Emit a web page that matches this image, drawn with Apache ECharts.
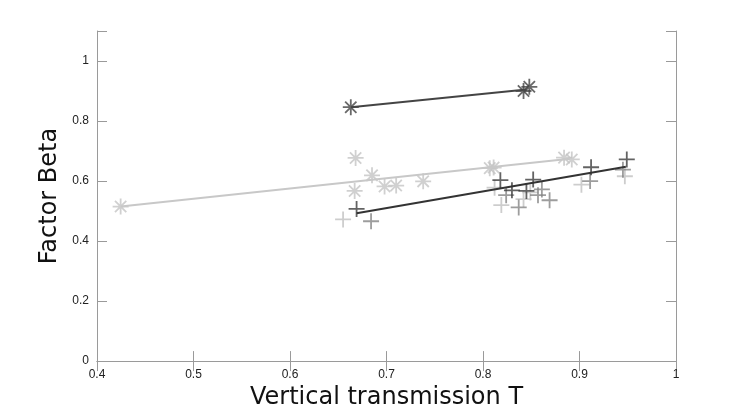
<!DOCTYPE html>
<html>
<head>
<meta charset="utf-8">
<script src="https://cdn.jsdelivr.net/npm/echarts@6/dist/echarts.min.js"></script>
<style>
html, body { margin: 0; padding: 0; background: #fff; }
#chart { width: 747px; height: 415px; }
</style>
</head>
<body>
<div id="chart"></div>
<script>
// axis ticks
var xTicks = [0.4, 0.5, 0.6, 0.7, 0.8, 0.9, 1];
var yTicks = [0, 0.2, 0.4, 0.6, 0.8, 1];

// dark asterisks + their line
var darkStar = [[0.663, 0.846], [0.842, 0.900], [0.848, 0.914]];
var darkStarLine = [[0.663, 0.846], [0.845, 0.905]];

// light asterisks + their line
var lightStar = [
	[0.4245, 0.515], [0.668, 0.677], [0.685, 0.619], [0.667, 0.567],
	[0.698, 0.582], [0.710, 0.585], [0.738, 0.599], [0.807, 0.643],
	[0.811, 0.645], [0.884, 0.678], [0.892, 0.672]
];
var lightStarLine = [[0.4245, 0.515], [0.89, 0.674]];

// plus markers, three shades
var darkPlus = [
	[0.669, 0.507], [0.818, 0.603], [0.852, 0.605], [0.830, 0.569],
	[0.845, 0.567], [0.912, 0.646], [0.949, 0.672]
];
var midPlus = [
	[0.684, 0.466], [0.824, 0.553], [0.837, 0.512], [0.857, 0.553],
	[0.861, 0.572], [0.869, 0.536], [0.911, 0.600], [0.945, 0.638]
];
var lightPlus = [
	[0.655, 0.472], [0.812, 0.578], [0.819, 0.520], [0.842, 0.540],
	[0.849, 0.562], [0.902, 0.588], [0.947, 0.616]
];
var darkPlusLine = [[0.669, 0.493], [0.948, 0.648]];

var STAR = 'path://M0,-8L0,8M-8,0L8,0M-5.66,-5.66L5.66,5.66M-5.66,5.66L5.66,-5.66';
var PLUS = 'path://M0,-8L0,8M-8,0L8,0';

var chart = echarts.init(document.getElementById('chart'));

function marks(data, shape, color, size) {
	return {
		type: 'scatter',
		data: data,
		symbol: shape,
		symbolSize: size,
		itemStyle: { color: 'transparent', borderColor: color, borderWidth: 1.8 },
		emphasis: { disabled: true }
	};
}
function fitLine(data, color) {
	return {
		type: 'line',
		data: data,
		symbol: 'none',
		lineStyle: { color: color, width: 2 },
		emphasis: { disabled: true }
	};
}

var axisGray = '#9a9a9a';
var tickFont = { fontFamily: 'Liberation Sans', fontSize: 12, color: '#222' };

chart.setOption({
	animation: false,
	grid: { left: 97, right: 71, top: 31, bottom: 46 },
	xAxis: [{
		type: 'value', min: xTicks[0], max: xTicks[xTicks.length - 1], interval: 0.1,
		name: 'Vertical transmission T', nameLocation: 'middle', nameGap: 15,
		nameTextStyle: { fontFamily: 'DejaVu Sans', fontSize: 24, color: '#111' },
		axisLine: { lineStyle: { color: axisGray } },
		axisTick: { inside: true, length: 10, lineStyle: { color: axisGray } },
		axisLabel: Object.assign({ margin: 8 }, tickFont),
		splitLine: { show: false }
	}, {
		type: 'value', position: 'top', min: xTicks[0], max: xTicks[xTicks.length - 1], interval: 0.1,
		axisLine: { show: true, lineStyle: { color: axisGray } },
		axisTick: { inside: true, length: 10, lineStyle: { color: axisGray } },
		axisLabel: { show: false },
		splitLine: { show: false }
	}],
	yAxis: [{
		type: 'value', min: 0, max: 1.1, interval: 0.2,
		name: 'Factor Beta', nameLocation: 'middle', nameGap: 33,
		nameTextStyle: { fontFamily: 'DejaVu Sans', fontSize: 24, color: '#111' },
		axisLine: { show: true, lineStyle: { color: axisGray } },
		axisTick: { inside: true, length: 10, lineStyle: { color: axisGray } },
		axisLabel: Object.assign({
			margin: 8,
			formatter: function(v) { return yTicks.indexOf(+v.toFixed(1)) >= 0 ? String(+v.toFixed(1)) : ''; }
		}, tickFont),
		splitLine: { show: false }
	}, {
		type: 'value', position: 'right', min: 0, max: 1.1, interval: 0.2,
		axisLine: { show: true, lineStyle: { color: axisGray } },
		axisTick: { inside: true, length: 10, lineStyle: { color: axisGray } },
		axisLabel: { show: false },
		splitLine: { show: false }
	}],
	series: [
		fitLine(lightStarLine, '#c8c8c8'),
		marks(lightStar, STAR, '#c4c4c4', 16),
		marks(lightPlus, PLUS, '#c0c0c0', 16),
		marks(midPlus, PLUS, '#858585', 16),
		marks(darkPlus, PLUS, '#3c3c3c', 16),
		fitLine(darkPlusLine, '#333'),
		fitLine(darkStarLine, '#444'),
		marks(darkStar, STAR, '#444', 16)
	]
});
</script>
</body>
</html>
